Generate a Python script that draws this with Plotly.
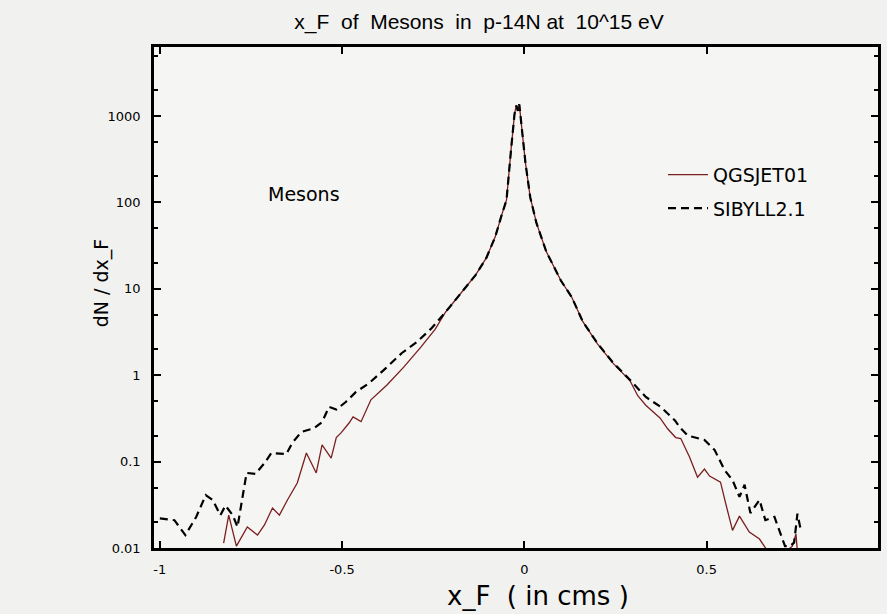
import plotly.graph_objects as go

# ---- data ----
qgs_x = [-0.825, -0.811, -0.79, -0.76, -0.732, -0.713, -0.691, -0.672, -0.65, -0.623,
         -0.598, -0.571, -0.555, -0.53, -0.516, -0.503, -0.481, -0.47, -0.448, -0.421,
         -0.377, -0.331, -0.284, -0.245, -0.216, -0.172, -0.134, -0.104, -0.08, -0.063,
         -0.049, -0.036, -0.027, -0.022, -0.018, -0.014, -0.005, 0.003, 0.016, 0.033,
         0.06, 0.1, 0.13, 0.16, 0.2, 0.243, 0.29, 0.311, 0.333, 0.347,
         0.372, 0.393, 0.415, 0.429, 0.453, 0.475, 0.494, 0.508, 0.538, 0.552,
         0.571, 0.59, 0.617, 0.645, 0.665, 0.70, 0.735, 0.745, 0.75]
qgs_y = [0.0114, 0.024, 0.0105, 0.0175, 0.0141, 0.0185, 0.029, 0.024, 0.036, 0.0565,
         0.126, 0.074, 0.156, 0.11, 0.19, 0.215, 0.28, 0.33, 0.29, 0.52,
         0.77, 1.24, 2.12, 3.4, 5.4, 9.2, 14.4, 23, 40, 70,
         107, 435, 1060, 1330, 1150, 1370, 645, 286, 115, 58,
         27, 12.5, 8.0, 4.2, 2.32, 1.38, 0.86, 0.58, 0.45, 0.40,
         0.32, 0.24, 0.19, 0.185, 0.113, 0.066, 0.082, 0.068, 0.058, 0.033,
         0.016, 0.0234, 0.0153, 0.0127, 0.0095, 0.008, 0.0105, 0.0145, 0.008]

sib_x = [-1.0, -0.96, -0.93, -0.90, -0.874, -0.855, -0.834, -0.82, -0.80, -0.787,
         -0.762, -0.738, -0.713, -0.694, -0.653, -0.637, -0.612, -0.576, -0.555, -0.536,
         -0.516, -0.49, -0.462, -0.426, -0.38, -0.336, -0.295, -0.254, -0.216, -0.172,
         -0.134, -0.104, -0.08, -0.063, -0.049, -0.036, -0.027, -0.022, -0.018, -0.014,
         -0.005, 0.003, 0.016, 0.033, 0.06, 0.1, 0.13, 0.16, 0.2, 0.243,
         0.29, 0.311, 0.333, 0.374, 0.413, 0.426, 0.448, 0.494, 0.522, 0.549,
         0.571, 0.59, 0.604, 0.62, 0.645, 0.661, 0.686, 0.702, 0.715, 0.727,
         0.74, 0.749, 0.757]
sib_y = [0.022, 0.021, 0.0141, 0.023, 0.041, 0.036, 0.024, 0.031, 0.024, 0.0175,
         0.074, 0.072, 0.096, 0.126, 0.122, 0.164, 0.22, 0.245, 0.287, 0.43,
         0.40, 0.49, 0.64, 0.81, 1.21, 1.81, 2.42, 3.52, 5.4, 9.2,
         14.4, 23, 40, 70, 107, 435, 1060, 1330, 1150, 1370,
         645, 286, 115, 58, 27, 12.5, 8.0, 4.2, 2.35, 1.4,
         0.88, 0.71, 0.56, 0.43, 0.30, 0.25, 0.20, 0.178, 0.136, 0.08,
         0.061, 0.039, 0.054, 0.0254, 0.036, 0.021, 0.0229, 0.0149, 0.0105, 0.0105,
         0.0115, 0.025, 0.017]

x_ticks = [-1, -0.5, 0, 0.5]
x_tick_text = ["-1", "-0.5", "0", "0.5"]
y_ticks = [0.01, 0.1, 1, 10, 100, 1000]
y_tick_text = ["0.01", "0.1", "1", "10", "100", "1000"]

FONT = "DejaVu Sans"

fig = go.Figure()
fig.add_trace(go.Scatter(x=qgs_x, y=qgs_y, mode="lines", name="QGSJET01",
                         line=dict(color="#7a1f1f", width=1.3), legend="legend"))
fig.add_trace(go.Scatter(x=sib_x, y=sib_y, mode="lines", name="SIBYLL2.1",
                         line=dict(color="black", width=2.2, dash="8px,5px"), legend="legend2"))

axis_common = dict(showline=True, linecolor="black", linewidth=2.5, mirror="ticks",
                   ticks="inside", ticklen=7, tickwidth=2, tickcolor="black",
                   showgrid=False, zeroline=False,
                   tickfont=dict(family=FONT, size=13, color="black"))

fig.update_xaxes(range=[-1.016, 0.97], tickvals=x_ticks, ticktext=x_tick_text,
                 ticklabelstandoff=8, **axis_common)
fig.update_yaxes(type="log", range=[-2, 3.8], tickvals=y_ticks, ticktext=y_tick_text,
                 ticklabelstandoff=8,
                 minor=dict(ticks="inside", ticklen=4, tickwidth=1.5, tickcolor="black",
                            dtick="D2", showgrid=False),
                 **axis_common)

leg_common = dict(font=dict(family=FONT, size=19, color="black"), bgcolor="rgba(0,0,0,0)",
                  borderwidth=0, xanchor="left", yanchor="middle", itemwidth=40)
fig.update_layout(
    width=887, height=614,
    margin=dict(l=154, r=6, t=47, b=66),
    paper_bgcolor="#f1f1ef", plot_bgcolor="#f5f5f3",
    showlegend=True,
    legend=dict(x=0.703, y=0.745, **leg_common),
    legend2=dict(x=0.703, y=0.678, **leg_common),
    title=dict(text="x_F  of  Mesons  in  p-14N at  10^15 eV", x=0.54, xanchor="center",
               y=0.965, yanchor="middle", yref="container",
               font=dict(family="Liberation Sans", size=21, color="black")),
    annotations=[
        dict(text="Mesons", xref="paper", yref="paper", x=0.2077, y=0.7066,
             showarrow=False, xanchor="center", yanchor="middle",
             font=dict(family=FONT, size=19, color="black")),
        dict(text="x_F  ( in cms )", xref="paper", yref="paper", x=0.531, y=-0.0958,
             showarrow=False, xanchor="center", yanchor="middle",
             font=dict(family=FONT, size=26, color="black")),
        dict(text="dN / dx_F", xref="paper", yref="paper", x=(101 - 154) / 727,
             y=(548 - 283) / 501, showarrow=False, xanchor="center", yanchor="middle",
             textangle=-90, font=dict(family=FONT, size=19, color="black")),
    ],
)

fig.write_html("out.html")
